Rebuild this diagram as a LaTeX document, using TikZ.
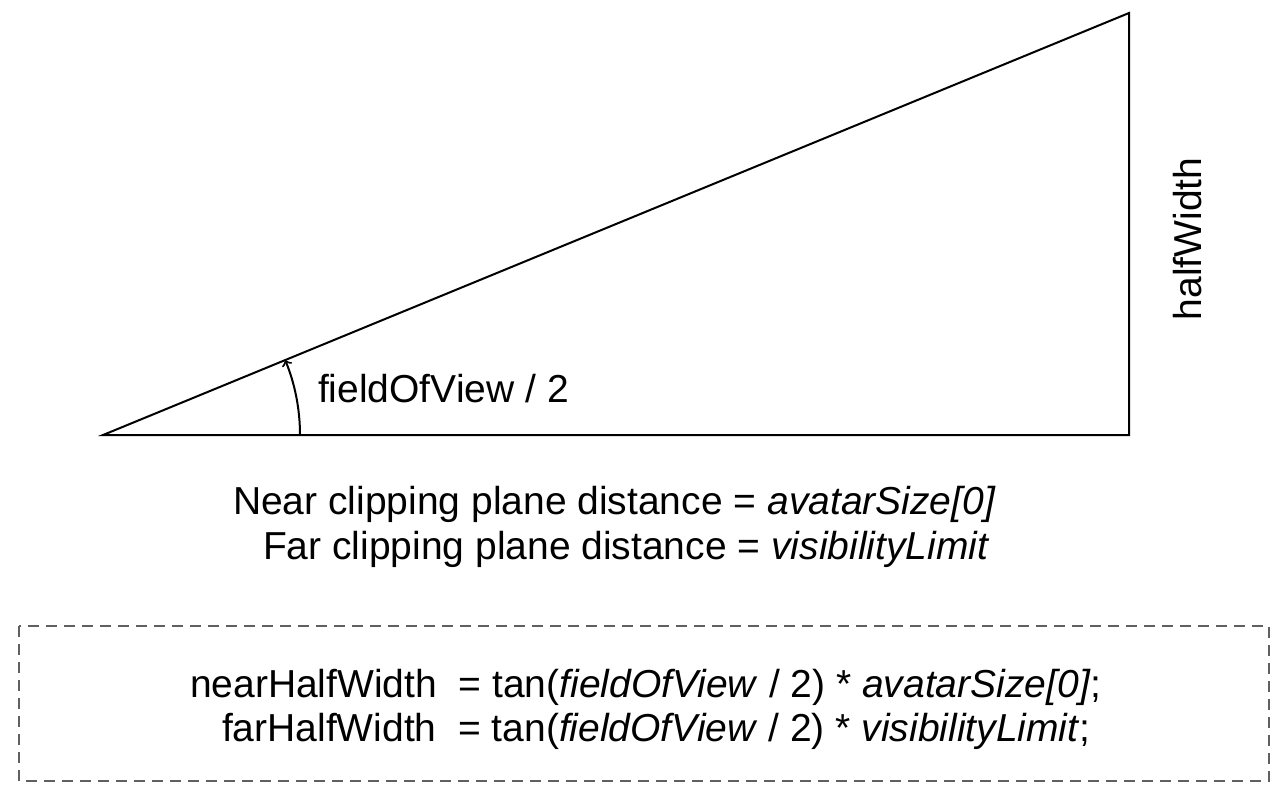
\documentclass[tikz,border=0pt]{standalone}
\usepackage{fontspec}
\setmainfont{Liberation Sans}
\definecolor{boxgray}{HTML}{606060}
\newcommand{\fs}{\fontsize{19.5}{22.5}\selectfont}
\tikzset{
  txt/.style={anchor=base west,inner sep=0pt},
  codebox/.style={draw=boxgray,line width=0.75pt,dash pattern=on 5.5pt off 3.5pt}
}
\begin{document}
\begin{tikzpicture}[x=0.5pt,y=-0.5pt,line width=1pt]
   \useasboundingbox (0,0) rectangle (1288,794);
   \coordinate (apex) at (103,435);
   \coordinate (base) at (1129,435);
   \coordinate (top) at (1129,13);
   \coordinate (arcstart) at (300,435);
   \draw (apex) -- (base) -- (top) -- cycle;
   \draw[->] (arcstart) arc[start angle=0,end angle=-22.4,radius=197];
   \node[txt] (fov) at (317,402) {\fs fieldOfView / 2};
   \node[rotate=90] (hw) at (1188,239) {\fs halfWidth};
   \node[txt] (near) at (232,514) {\fs Near clipping plane distance = \textit{avatarSize[0]}};
   \node[txt] (far) at (262,559) {\fs Far clipping plane distance = \textit{visibilityLimit}};
   \draw[codebox] (19,626) rectangle (1269,781);
   \node[txt] (nearhw) at (189,697) {\fs nearHalfWidth\ \ = tan(\textit{fieldOfView} / 2) * \textit{avatarSize[0]};};
   \node[txt] (farhw) at (221,741) {\fs farHalfWidth\ \ = tan(\textit{fieldOfView} / 2) * \textit{visibilityLimit};};
\end{tikzpicture}
\end{document}
